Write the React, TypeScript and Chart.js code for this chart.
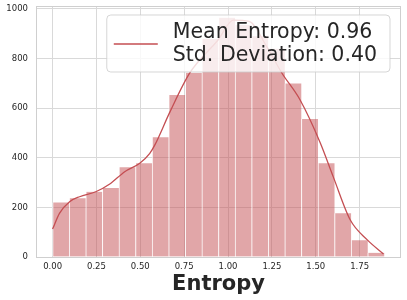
import React, { useEffect, useRef } from "react";
import { Chart, registerables } from "chart.js";

Chart.register(...registerables);

// ---- data ----
const binStart = 0;
const binWidth = 0.09455;
const binCounts = [220, 237, 263, 278, 362, 378, 483, 653, 743, 880, 965, 935, 890, 840, 700, 556, 378, 176, 68, 17];

const kdeX = [0.0, 0.04, 0.097, 0.154, 0.246, 0.326, 0.411, 0.497, 0.554, 0.583, 0.669, 0.783, 0.943, 1.03, 1.12, 1.221, 1.304, 1.411, 1.526, 1.6, 1.697, 1.794, 1.886];
const kdeY = [113, 177, 223, 243, 263, 294, 344, 378, 418, 452, 585, 743, 875, 955, 950, 848, 745, 633, 460, 323, 149, 69, 12];

const xTickValues = [0, 0.25, 0.5, 0.75, 1.0, 1.25, 1.5, 1.75];
const yTickValues = [0, 200, 400, 600, 800, 1000];
const xRange = [-0.0946, 1.986];
const yRange = [0, 1012];

const legendLines = ["Mean Entropy: 0.96", "Std. Deviation: 0.40"];
const xTitle = "Entropy";

const RED = "#c44e52";
const TEXT = "#262626";
const GRID = "#d9d9d9";
const FONT = '"DejaVu Sans", sans-serif';

const framePlugin = {
  id: "frame",
  afterDatasetsDraw(chart: any) {
    const { ctx, chartArea } = chart;
    ctx.save();
    ctx.strokeStyle = "#cfcfcf";
    ctx.lineWidth = 1;
    ctx.strokeRect(
      Math.round(chartArea.left) + 0.5,
      Math.round(chartArea.top) + 0.5,
      Math.round(chartArea.right - chartArea.left) - 1,
      Math.round(chartArea.bottom - chartArea.top)
    );
    ctx.restore();
  },
};

const legendPlugin = {
  id: "boxLegend",
  afterDraw(chart: any) {
    const { ctx, chartArea } = chart;
    const fontSize = 20.5;
    ctx.save();
    ctx.font = `${fontSize}px ${FONT}`;
    const textW = Math.max(...legendLines.map((t) => ctx.measureText(t).width));
    const boxRight = chartArea.right - 11;
    const boxTop = chartArea.top + 9;
    const boxH = 57;
    const textRight = boxRight - 13;
    const textLeft = textRight - textW;
    const lineX2 = textLeft - 15;
    const lineX1 = lineX2 - 44;
    const boxLeft = lineX1 - 7;
    const r = 4;
    ctx.beginPath();
    ctx.moveTo(boxLeft + r, boxTop);
    ctx.lineTo(boxRight - r, boxTop);
    ctx.quadraticCurveTo(boxRight, boxTop, boxRight, boxTop + r);
    ctx.lineTo(boxRight, boxTop + boxH - r);
    ctx.quadraticCurveTo(boxRight, boxTop + boxH, boxRight - r, boxTop + boxH);
    ctx.lineTo(boxLeft + r, boxTop + boxH);
    ctx.quadraticCurveTo(boxLeft, boxTop + boxH, boxLeft, boxTop + boxH - r);
    ctx.lineTo(boxLeft, boxTop + r);
    ctx.quadraticCurveTo(boxLeft, boxTop, boxLeft + r, boxTop);
    ctx.closePath();
    ctx.fillStyle = "rgba(255,255,255,0.8)";
    ctx.fill();
    ctx.strokeStyle = "rgba(204,204,204,0.8)";
    ctx.lineWidth = 1;
    ctx.stroke();

    ctx.beginPath();
    ctx.moveTo(lineX1, boxTop + 29);
    ctx.lineTo(lineX2, boxTop + 29);
    ctx.strokeStyle = RED;
    ctx.lineWidth = 1.3;
    ctx.stroke();

    ctx.fillStyle = TEXT;
    ctx.textBaseline = "alphabetic";
    ctx.textAlign = "left";
    ctx.fillText(legendLines[0], textLeft, boxTop + 23.3);
    ctx.fillText(legendLines[1], textLeft, boxTop + 46);
    ctx.restore();
  },
};

export default function App() {
  const ref = useRef<HTMLCanvasElement>(null);

  useEffect(() => {
    const barData = binCounts.map((c, i) => ({ x: binStart + (i + 0.5) * binWidth, y: c }));
    const kdeData = kdeX.map((x, i) => ({ x, y: kdeY[i] }));

    const chart = new Chart(ref.current as HTMLCanvasElement, {
      type: "bar",
      data: {
        datasets: [
          {
            type: "line",
            data: kdeData,
            borderColor: RED,
            borderWidth: 1.3,
            pointRadius: 0,
            fill: false,
            cubicInterpolationMode: "monotone",
            order: 0,
          } as any,
          {
            type: "bar",
            data: barData,
            backgroundColor: "rgba(196,78,82,0.5)",
            borderColor: "rgba(255,255,255,0.6)",
            borderWidth: { top: 0, left: 1, right: 0, bottom: 0 },
            borderSkipped: false,
            barPercentage: 1,
            categoryPercentage: 1,
            order: 1,
          } as any,
        ],
      },
      options: {
        animation: false,
        responsive: false,
        devicePixelRatio: 1,
        layout: { padding: { top: 6, right: 6, left: 0, bottom: 0 } },
        plugins: { legend: { display: false }, tooltip: { enabled: false } },
        scales: {
          x: {
            type: "linear",
            min: xRange[0],
            max: xRange[1],
            offset: false,
            grid: { color: GRID, lineWidth: 1, drawTicks: false, offset: false },
            border: { display: false },
            afterBuildTicks: (scale: any) => {
              scale.ticks = xTickValues.map((v) => ({ value: v }));
            },
            afterFit: (scale: any) => {
              scale.height = 43;
              scale.paddingLeft = 0;
              scale.paddingRight = 0;
            },
            ticks: {
              autoSkip: false,
              maxRotation: 0,
              padding: 5,
              color: TEXT,
              font: { family: FONT, size: 8.5 },
              callback: (v: any) => Number(v).toFixed(2),
            },
            title: {
              display: true,
              text: xTitle,
              color: TEXT,
              font: { family: FONT, size: 21, weight: "bold" },
              padding: { top: 0, bottom: 3 },
            },
          },
          y: {
            type: "linear",
            min: yRange[0],
            max: yRange[1],
            grid: { color: GRID, lineWidth: 1, drawTicks: false },
            border: { display: false },
            afterBuildTicks: (scale: any) => {
              scale.ticks = yTickValues.map((v) => ({ value: v }));
            },
            afterFit: (scale: any) => {
              scale.width = 36;
              scale.paddingTop = 0;
              scale.paddingBottom = 0;
            },
            ticks: {
              padding: 8,
              color: TEXT,
              font: { family: FONT, size: 8.5 },
              callback: (v: any) => String(v),
            },
          },
        },
      } as any,
      plugins: [framePlugin, legendPlugin],
    });
    return () => chart.destroy();
  }, []);

  return (
    <div style={{ position: "fixed", left: 0, top: 0, width: 407, height: 300, background: "#fff" }}>
      <canvas ref={ref} width={407} height={300} style={{ display: "block", width: 407, height: 300 }} />
    </div>
  );
}
